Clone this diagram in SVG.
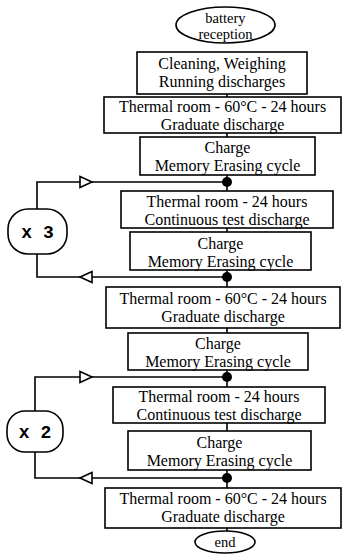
<svg xmlns="http://www.w3.org/2000/svg" width="345" height="558" viewBox="0 0 345 558">
<style>
.box{fill:#fff;stroke:#000;stroke-width:1.6}
.ln{fill:none;stroke:#000;stroke-width:1.6}
.tri{fill:#fff;stroke:#000;stroke-width:1.6;stroke-linejoin:miter}
.dot{fill:#000}
text{font-family:"Liberation Serif","Times New Roman",serif;font-size:16px;fill:#000;text-anchor:middle}
.mono{font-family:"Liberation Mono","Courier New",monospace;font-size:18px;font-weight:bold}
.sm{font-size:14.5px}
</style>
<rect width="345" height="558" fill="#fff"/>
<g id="connectors">
<line class="ln" x1="227" y1="175" x2="227" y2="191"/>
<line class="ln" x1="227" y1="270" x2="227" y2="287"/>
<line class="ln" x1="227" y1="370" x2="227" y2="387"/>
<line class="ln" x1="227" y1="470" x2="227" y2="488"/>
<line class="ln" x1="227" y1="94" x2="227" y2="97"/>
<line class="ln" x1="227" y1="133" x2="227" y2="137"/>
<line class="ln" x1="227" y1="228" x2="227" y2="232"/>
<line class="ln" x1="227" y1="328" x2="227" y2="333"/>
<line class="ln" x1="227" y1="423" x2="227" y2="431"/>
<line class="ln" x1="227" y1="528" x2="227" y2="531"/>
<polyline class="ln" points="37,209 37,182 227,182"/>
<polyline class="ln" points="227,277 37,277 37,254"/>
<polyline class="ln" points="35,411 35,377 227,377"/>
<polyline class="ln" points="227,478 35,478 35,452"/>
<polygon class="tri" points="80,176.5 92,182 80,187.5"/>
<polygon class="tri" points="92,271.5 80,277 92,282.5"/>
<polygon class="tri" points="80,371.5 92,377 80,382.5"/>
<polygon class="tri" points="92,472.5 80,478 92,483.5"/>
<circle class="dot" cx="227" cy="182" r="5"/>
<circle class="dot" cx="227" cy="277" r="5"/>
<circle class="dot" cx="227" cy="377" r="5"/>
<circle class="dot" cx="227" cy="478" r="5"/>
</g>
<g id="start">
<ellipse class="box" cx="225.5" cy="25" rx="49.5" ry="18"/>
<text class="sm" x="225.5" y="23">battery</text>
<text class="sm" x="225.5" y="39">reception</text>
</g>
<g id="cleaning">
<rect class="box" x="137" y="52" width="170" height="42"/>
<text x="222" y="69">Cleaning, Weighing</text>
<text x="222" y="87">Running discharges</text>
</g>
<g id="thermal60-1">
<rect class="box" x="104" y="97" width="237" height="36"/>
<text x="222.5" y="112">Thermal room - 60°C - 24 hours</text>
<text x="222.5" y="130">Graduate discharge</text>
</g>
<g id="charge-1">
<rect class="box" x="140" y="137" width="175" height="38"/>
<text x="227.5" y="153">Charge</text>
<text x="227.5" y="171">Memory Erasing cycle</text>
</g>
<g id="x3">
<rect class="box" x="8" y="209" width="59" height="45" rx="20" ry="20"/>
<text class="mono" x="37.5" y="238">x 3</text>
</g>
<g id="thermal24-1">
<rect class="box" x="121" y="191" width="212" height="37"/>
<text x="227" y="207">Thermal room - 24 hours</text>
<text x="227" y="225">Continuous test discharge</text>
</g>
<g id="charge-2">
<rect class="box" x="130" y="232" width="181" height="38"/>
<text x="220.5" y="249">Charge</text>
<text x="220.5" y="267">Memory Erasing cycle</text>
</g>
<g id="thermal60-2">
<rect class="box" x="106" y="287" width="234" height="41"/>
<text x="223" y="304">Thermal room - 60°C - 24 hours</text>
<text x="223" y="322">Graduate discharge</text>
</g>
<g id="charge-3">
<rect class="box" x="128" y="333" width="180" height="37"/>
<text x="218" y="349">Charge</text>
<text x="218" y="367">Memory Erasing cycle</text>
</g>
<g id="x2">
<rect class="box" x="7" y="411" width="56" height="41" rx="18" ry="18"/>
<text class="mono" x="35" y="438">x 2</text>
</g>
<g id="thermal24-2">
<rect class="box" x="113" y="387" width="212" height="36"/>
<text x="219" y="402">Thermal room - 24 hours</text>
<text x="219" y="420">Continuous test discharge</text>
</g>
<g id="charge-4">
<rect class="box" x="128" y="431" width="183" height="39"/>
<text x="219.5" y="448">Charge</text>
<text x="219.5" y="466">Memory Erasing cycle</text>
</g>
<g id="thermal60-3">
<rect class="box" x="105" y="488" width="236" height="40"/>
<text x="223" y="504">Thermal room - 60°C - 24 hours</text>
<text x="223" y="522">Graduate discharge</text>
</g>
<g id="end">
<ellipse class="box" cx="225" cy="542" rx="30" ry="11"/>
<text class="sm" x="225" y="547">end</text>
</g>
</svg>
